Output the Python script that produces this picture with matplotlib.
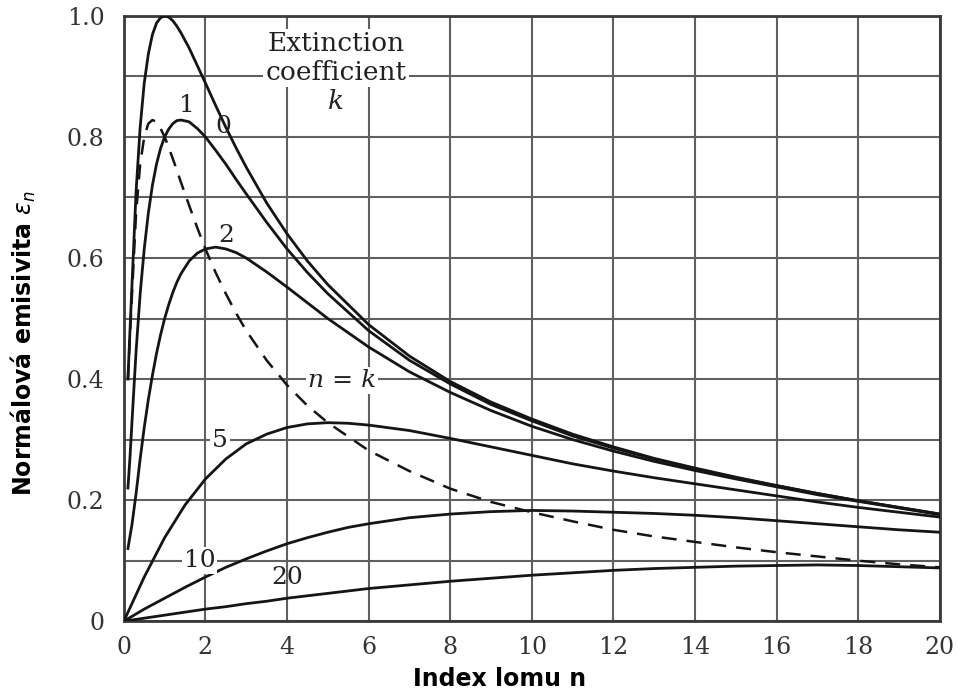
import matplotlib
matplotlib.use("Agg")
import matplotlib.pyplot as plt

# refractive index n (x) and normal emissivity (y)
n_a = [0.1, 0.15, 0.2, 0.3, 0.4, 0.5, 0.6, 0.7, 0.8, 0.9, 1.0, 1.1, 1.2, 1.3, 1.4, 1.6, 1.8,
       2.0, 2.25, 2.5, 2.75, 3.0, 3.5, 4, 4.5, 5, 6, 7, 8, 9, 10, 11, 12, 13, 14, 15, 16, 17,
       18, 19, 20]
eps_k0 = [0.40, 0.48, 0.556, 0.710, 0.816, 0.889, 0.937, 0.969, 0.988, 0.997, 1.0, 0.998,
          0.992, 0.983, 0.972, 0.947, 0.918, 0.889, 0.852, 0.816, 0.782, 0.750, 0.691, 0.640,
          0.595, 0.556, 0.490, 0.438, 0.396, 0.362, 0.334, 0.309, 0.288, 0.269, 0.253, 0.238,
          0.224, 0.211, 0.199, 0.188, 0.177]
eps_k1 = [0.22, 0.27, 0.33, 0.446, 0.541, 0.615, 0.674, 0.720, 0.755, 0.781, 0.800, 0.813,
          0.822, 0.827, 0.828, 0.825, 0.814, 0.800, 0.778, 0.755, 0.730, 0.706, 0.659, 0.615,
          0.576, 0.541, 0.480, 0.431, 0.392, 0.358, 0.331, 0.306, 0.286, 0.268, 0.252, 0.237,
          0.224, 0.211, 0.199, 0.188, 0.177]
eps_k2 = [0.12, 0.14, 0.16, 0.211, 0.268, 0.320, 0.366, 0.406, 0.442, 0.473, 0.500, 0.523,
          0.543, 0.560, 0.574, 0.595, 0.608, 0.615, 0.618, 0.615, 0.609, 0.600, 0.577, 0.552,
          0.526, 0.500, 0.453, 0.412, 0.378, 0.348, 0.322, 0.300, 0.281, 0.264, 0.249, 0.235,
          0.222, 0.209, 0.198, 0.187, 0.176]
eps_nk = [0.40, 0.47, 0.541, 0.674, 0.755, 0.800, 0.822, 0.828, 0.825, 0.814, 0.800, 0.783,
          0.764, 0.745, 0.725, 0.687, 0.650, 0.615, 0.576, 0.541, 0.509, 0.480, 0.431, 0.390,
          0.356, 0.328, 0.282, 0.248, 0.219, 0.197, 0.180, 0.165, 0.151, 0.140, 0.131, 0.122,
          0.114, 0.107, 0.100, 0.094, 0.089]

n_b = [0, 0.5, 1, 1.5, 2, 2.5, 3, 3.5, 4, 4.5, 5, 5.5, 6, 7, 8, 9, 10, 11, 12, 13, 14, 15,
       16, 17, 18, 19, 20]
eps_k5 = [0, 0.073, 0.138, 0.192, 0.235, 0.268, 0.293, 0.309, 0.320, 0.326, 0.328, 0.327,
          0.324, 0.315, 0.302, 0.288, 0.274, 0.260, 0.248, 0.237, 0.227, 0.217, 0.207, 0.197,
          0.188, 0.180, 0.172]
eps_k10 = [0, 0.020, 0.038, 0.056, 0.073, 0.089, 0.103, 0.116, 0.128, 0.138, 0.147, 0.155,
           0.161, 0.171, 0.177, 0.181, 0.183, 0.182, 0.180, 0.178, 0.175, 0.171, 0.166, 0.161,
           0.156, 0.151, 0.147]
eps_k20 = [0, 0.005, 0.010, 0.015, 0.020, 0.024, 0.029, 0.033, 0.038, 0.042, 0.046, 0.050,
           0.054, 0.060, 0.066, 0.071, 0.076, 0.080, 0.084, 0.087, 0.089, 0.091, 0.092, 0.093,
           0.092, 0.090, 0.088]

x_ticks = [0, 2, 4, 6, 8, 10, 12, 14, 16, 18, 20]
y_ticks = [0, 0.2, 0.4, 0.6, 0.8, 1.0]
y_tick_labels = ["0", "0.2", "0.4", "0.6", "0.8", "1.0"]

serif = "DejaVu Serif"
grid_col = "#606060"
ink = "#222222"

fig = plt.figure(figsize=(9.6, 6.91), dpi=100)
ax = fig.add_axes([0.129, 0.101, 0.850, 0.876])

ax.plot(n_a, eps_k0, color="#151515", lw=2.0, zorder=3)
ax.plot(n_a, eps_k1, color="#151515", lw=2.0, zorder=3)
ax.plot(n_a, eps_k2, color="#151515", lw=2.0, zorder=3)
ax.plot(n_a, eps_nk, color="#151515", lw=1.8, ls=(0, (6, 4)), zorder=3)
ax.plot(n_b, eps_k5, color="#151515", lw=2.0, zorder=3)
ax.plot(n_b, eps_k10, color="#151515", lw=2.0, zorder=3)
ax.plot(n_b, eps_k20, color="#151515", lw=2.0, zorder=3)

ax.set_xlim(0, 20)
ax.set_ylim(0, 1.0)
ax.set_xticks(x_ticks)
ax.set_xticklabels([str(t) for t in x_ticks])
ax.set_yticks(y_ticks)
ax.set_yticklabels(y_tick_labels)
ax.set_yticks([0.1, 0.3, 0.5, 0.7, 0.9], minor=True)
ax.grid(True, which="both", color=grid_col, lw=1.5, zorder=1)
ax.tick_params(which="both", length=0)
ax.tick_params(axis="x", pad=11)
ax.tick_params(axis="y", pad=14)
for lab in ax.get_xticklabels() + ax.get_yticklabels():
    lab.set_fontfamily(serif)
    lab.set_fontsize(17)
    lab.set_color("#333333")
for s in ax.spines.values():
    s.set_color("#3a3a3a")
    s.set_linewidth(2)

# curve labels
box = dict(facecolor="white", edgecolor="none", pad=1.5)
ax.text(5.2, 0.955, "Extinction", family=serif, fontsize=19, ha="center", va="center",
        color=ink, bbox=box, zorder=4)
ax.text(5.2, 0.906, "coefficient", family=serif, fontsize=19, ha="center", va="center",
        color=ink, bbox=box, zorder=4)
ax.text(5.2, 0.858, "k", family=serif, style="italic", fontsize=19, ha="center", va="center",
        color=ink, bbox=box, zorder=4)
ax.text(2.45, 0.818, "0", family=serif, fontsize=18, ha="center", va="center", color=ink)
ax.text(1.55, 0.852, "1", family=serif, fontsize=18, ha="center", va="center", color=ink)
ax.text(2.5, 0.637, "2", family=serif, fontsize=18, ha="center", va="center", color=ink)
ax.text(5.35, 0.398, "n = k", family=serif, style="italic", fontsize=18, ha="center",
        va="center", color=ink, bbox=box, zorder=4)
ax.text(2.35, 0.298, "5", family=serif, fontsize=18, ha="center", va="center",
        color=ink, bbox=box, zorder=4)
ax.text(1.85, 0.100, "10", family=serif, fontsize=18, ha="center", va="center",
        color=ink, bbox=box, zorder=4)
ax.text(4.0, 0.072, "20", family=serif, fontsize=18, ha="center", va="center", color=ink)

lab_font = ["Liberation Sans Narrow", "DejaVu Sans"]
ax.set_xlabel("Index lomu n", family=lab_font, fontsize=17, fontweight="bold")
ax.xaxis.set_label_coords(0.46, -0.075)
ax.set_ylabel("Normálová emisivita $\\epsilon_{n}$", family=lab_font, fontsize=17,
              fontweight="bold")
ax.yaxis.set_label_coords(-0.105, 0.46)

fig.savefig("out.png", dpi=100)
